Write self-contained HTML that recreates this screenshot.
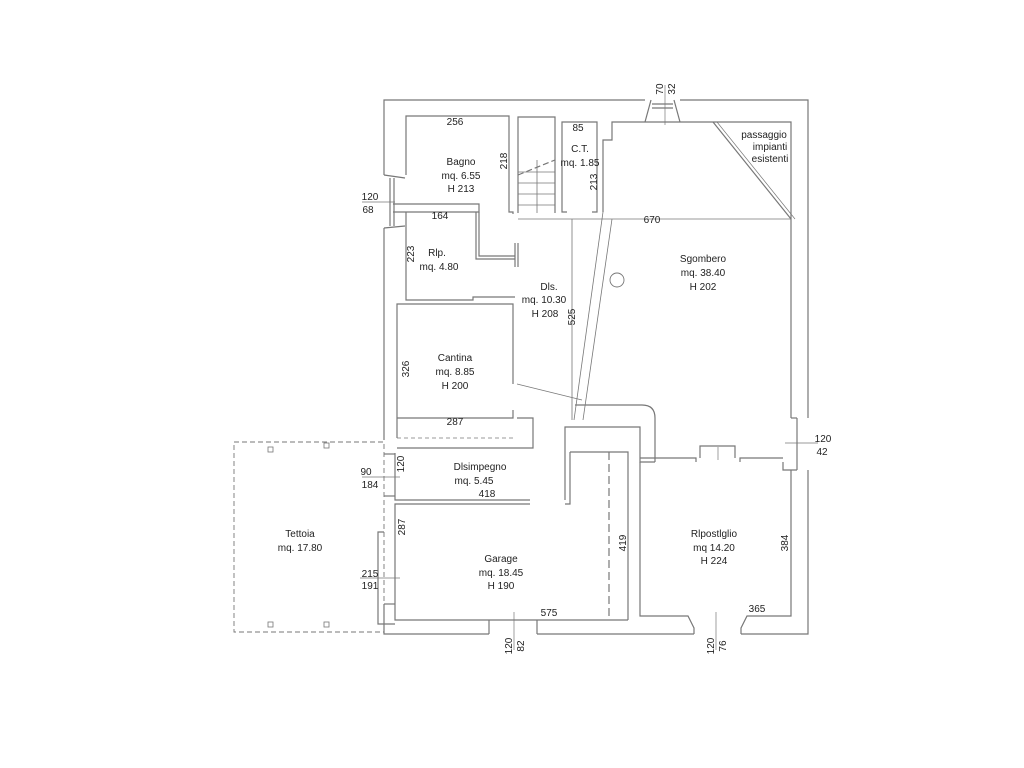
<!DOCTYPE html>
<html><head><meta charset="utf-8"><style>
html,body{margin:0;padding:0;background:#fff;}
svg{display:block;}
text{font-family:"Liberation Sans",sans-serif;fill:#222;font-size:10px;}
</style></head><body>
<svg width="1024" height="768" viewBox="0 0 1024 768" xmlns="http://www.w3.org/2000/svg">
<g fill="none" stroke="#777" stroke-width="1.2">
<polyline points="645,100 384,100 384,175"/>
<polyline points="384,228 384,440"/>
<polyline points="680,100 808,100 808,418"/>
<polyline points="808,470 808,634 741,634"/>
<polyline points="694,634 537,634"/>
<polyline points="489,634 384,634 384,604"/>
<polyline points="651,100 645,122"/><polyline points="674,100 680,122"/>
<line x1="652" y1="104" x2="673" y2="104"/><line x1="652" y1="108" x2="673" y2="108"/>
<line x1="665" y1="85" x2="665" y2="125" stroke-width="0.7"/>
<line x1="384" y1="175" x2="405" y2="178"/><line x1="384" y1="228" x2="405" y2="226"/>
<line x1="390" y1="178" x2="390" y2="226"/><line x1="394" y1="178" x2="394" y2="226"/>
<line x1="362" y1="202" x2="395" y2="202" stroke-width="0.7"/>
<polyline points="406,175 406,116 509,116 509,205"/>
<polyline points="509,205 509,212 513,212 513,214"/>
<polyline points="393,204 479,204 479,212 393,212"/>
<polyline points="518,213 518,117 555,117 555,213"/>
<line x1="518" y1="175" x2="555" y2="160" stroke-dasharray="6,3"/>
<line x1="518" y1="172" x2="555" y2="172" stroke-width="0.8"/>
<line x1="518" y1="183" x2="555" y2="183" stroke-width="0.8"/>
<line x1="518" y1="194" x2="555" y2="194" stroke-width="0.8"/>
<line x1="518" y1="205" x2="555" y2="205" stroke-width="0.8"/>
<line x1="537" y1="160" x2="537" y2="213" stroke-width="0.8"/>
<line x1="518" y1="219" x2="791" y2="219" stroke-width="0.8"/>
<polyline points="567,212 562,212 562,122 597,122 597,212 592,212"/>
<polyline points="603,212 603,140 612,140 612,122 791,122 791,418"/>
<line x1="713" y1="122" x2="791" y2="219"/><line x1="717" y1="122" x2="795" y2="219" stroke-width="0.7"/>
<line x1="797" y1="418" x2="797" y2="470"/><line x1="791" y1="418" x2="797" y2="418"/>
<polyline points="783,462 783,470 797,470"/>
<line x1="785" y1="443" x2="818" y2="443" stroke-width="0.7"/>
<polyline points="406,212 406,300 473,300 473,297 515,297"/>
<polyline points="476,212 476,259 515,259"/><polyline points="479,212 479,256 515,256"/>
<line x1="515" y1="243" x2="515" y2="267"/><line x1="518" y1="243" x2="518" y2="267"/>
<line x1="612" y1="219" x2="583" y2="420" stroke-width="0.8"/>
<line x1="603" y1="212" x2="574" y2="420" stroke-width="0.8"/>
<circle cx="617" cy="280" r="7" stroke-width="0.9"/>
<line x1="572" y1="219" x2="572" y2="420" stroke-width="0.8"/>
<polyline points="513,384 513,304 397,304 397,438"/>
<polyline points="397,418 513,418 513,410"/>
<line x1="397" y1="438" x2="513" y2="438" stroke-dasharray="4,3" stroke-width="0.8"/>
<line x1="517" y1="384" x2="582" y2="400" stroke-width="0.7"/>
<polyline points="517,418 533,418 533,448 397,448"/>
<polyline points="565,500 565,427 640,427 640,462 655,462"/>
<path d="M575,405 L642,405 Q655,405 655,418 L655,462"/>
<polyline points="570,452 570,504 565,504"/>
<polyline points="570,452 628,452 628,620"/>
<line x1="609" y1="452" x2="609" y2="620" stroke-dasharray="8,4"/>
<polyline points="395,453 395,500 530,500"/>
<polyline points="384,454 395,454"/><polyline points="384,496 395,496"/>
<line x1="362" y1="477" x2="400" y2="477" stroke-width="0.7"/>
<polyline points="530,504 395,504 395,620 628,620"/>
<polyline points="384,532 378,532 378,624 395,624"/>
<line x1="360" y1="578" x2="400" y2="578" stroke-width="0.7"/>
<line x1="384" y1="604" x2="395" y2="604"/>
<line x1="489" y1="620" x2="489" y2="634"/><line x1="537" y1="620" x2="537" y2="634"/>
<line x1="514" y1="612" x2="514" y2="650" stroke-width="0.7"/>
<polyline points="640,462 640,616 688,616 694,628 694,634"/>
<polyline points="741,634 741,628 747,616 791,616 791,470"/>
<line x1="716" y1="612" x2="716" y2="650" stroke-width="0.7"/>
<polyline points="640,458 696,458 696,462"/>
<polyline points="740,462 740,458 783,458"/>
<polyline points="700,458 700,446 735,446 735,458"/>
<line x1="718" y1="447" x2="718" y2="460" stroke-width="0.7"/>
<rect x="234" y="442" width="150" height="190" stroke-dasharray="5,3" stroke-width="0.9"/>
<rect x="268" y="447" width="5" height="5" stroke-width="0.8"/>
<rect x="324" y="443" width="5" height="5" stroke-width="0.8"/>
<rect x="268" y="622" width="5" height="5" stroke-width="0.8"/>
<rect x="324" y="622" width="5" height="5" stroke-width="0.8"/>
</g>
<g text-anchor="middle">
<text x="455" y="125">256</text>
<text x="461" y="165">Bagno</text><text x="461" y="179">mq. 6.55</text><text x="461" y="192">H 213</text>
<text x="578" y="131">85</text>
<text x="580" y="152">C.T.</text><text x="580" y="166">mq. 1.85</text>
<text x="440" y="219">164</text>
<text x="437" y="256">Rlp.</text><text x="439" y="270">mq. 4.80</text>
<text x="549" y="290">Dls.</text><text x="544" y="303">mq. 10.30</text><text x="545" y="317">H 208</text>
<text x="652" y="223">670</text>
<text x="703" y="262">Sgombero</text><text x="703" y="276">mq. 38.40</text><text x="703" y="290">H 202</text>
<text x="764" y="138" font-size="9">passaggio</text><text x="770" y="150" font-size="9">impianti</text><text x="770" y="162" font-size="9">esistenti</text>
<text x="455" y="361">Cantina</text><text x="455" y="375">mq. 8.85</text><text x="455" y="389">H 200</text>
<text x="455" y="425">287</text>
<text x="480" y="470">Dlsimpegno</text><text x="474" y="484">mq. 5.45</text><text x="487" y="497">418</text>
<text x="300" y="537">Tettoia</text><text x="300" y="551">mq. 17.80</text>
<text x="501" y="562">Garage</text><text x="501" y="576">mq. 18.45</text><text x="501" y="589">H 190</text>
<text x="549" y="616">575</text>
<text x="714" y="537">Rlpostlglio</text><text x="714" y="551">mq 14.20</text><text x="714" y="564">H 224</text>
<text x="757" y="612">365</text>
<text x="823" y="442">120</text><text x="822" y="455">42</text>
<text x="370" y="200">120</text><text x="368" y="213">68</text>
<text x="366" y="475">90</text><text x="370" y="488">184</text>
<text x="370" y="577">215</text><text x="370" y="589">191</text>
</g>
<g font-size="10">
<text transform="translate(507,161) rotate(-90)" text-anchor="middle">218</text>
<text transform="translate(597,182) rotate(-90)" text-anchor="middle">213</text>
<text transform="translate(414,254) rotate(-90)" text-anchor="middle">223</text>
<text transform="translate(575,317) rotate(-90)" text-anchor="middle">525</text>
<text transform="translate(409,369) rotate(-90)" text-anchor="middle">326</text>
<text transform="translate(404,464) rotate(-90)" text-anchor="middle">120</text>
<text transform="translate(405,527) rotate(-90)" text-anchor="middle">287</text>
<text transform="translate(626,543) rotate(-90)" text-anchor="middle">419</text>
<text transform="translate(788,543) rotate(-90)" text-anchor="middle">384</text>
<text transform="translate(663,89) rotate(-90)" text-anchor="middle">70</text>
<text transform="translate(675,89) rotate(-90)" text-anchor="middle">32</text>
<text transform="translate(512,646) rotate(-90)" text-anchor="middle">120</text>
<text transform="translate(524,646) rotate(-90)" text-anchor="middle">82</text>
<text transform="translate(714,646) rotate(-90)" text-anchor="middle">120</text>
<text transform="translate(726,646) rotate(-90)" text-anchor="middle">76</text>
</g>
</svg>
</body></html>
